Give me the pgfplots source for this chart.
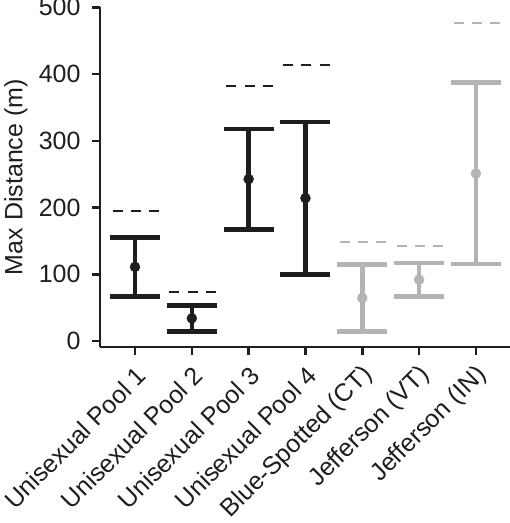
\documentclass[border=0pt]{standalone}
\usepackage{fontspec}
\setmainfont{Liberation Sans}
\usepackage{pgfplots}
\pgfplotsset{compat=1.18}
\definecolor{dk}{RGB}{30,30,30}
\definecolor{lg}{RGB}{180,180,180}
\begin{document}
\begin{tikzpicture}
\begin{axis}[
  at={(100pt,176pt)}, anchor=south west,
  scale only axis, width=410pt, height=339.7pt,
  xmin=-0.616, xmax=6.6, ymin=-9, ymax=500,
  axis lines*=left,
  axis line style={line width=2.5pt, dk},
  every tick/.style={line width=2.5pt, dk},
  major tick length=8pt, tick align=outside,
  xtick={0,1,2,3,4,5,6},
  xticklabels={Unisexual Pool 1,Unisexual Pool 2,Unisexual Pool 3,Unisexual Pool 4,Blue-Spotted (CT),Jefferson (VT),Jefferson (IN)},
  ytick={0,100,200,300,400,500},
  /pgf/number format/assume math mode=true,
  tick label style={font=\fontsize{25}{29}\selectfont, text=dk},
  xticklabel style={xshift=9pt, yshift=-14pt, rotate=45, anchor=east},
  yticklabel style={xshift=-8pt},
  ylabel={Max Distance (m)},
  ylabel style={font=\fontsize{25}{29}\selectfont, text=dk, at={(axis description cs:-0.2049,0.5)}, anchor=center},
  clip=false,
]
% dark series
\addplot[only marks, mark=*, mark size=5pt, mark options={fill=dk, draw=dk},
  error bars/.cd, y dir=both, y explicit,
  error bar style={line width=4.6pt, dk},
  error mark=|, error mark options={line width=4.5pt, mark size=25pt, dk}]
  coordinates {(0,111) +- (0,44) (1,34) +- (0,19.5) (2,242.5) +- (0,75.5) (3,214) +- (0,114)};
% grey series
\addplot[only marks, mark=*, mark size=5pt, mark options={fill=lg, draw=lg},
  error bars/.cd, y dir=both, y explicit,
  error bar style={line width=4.6pt, lg},
  error mark=|, error mark options={line width=4.5pt, mark size=25pt, lg}]
  coordinates {(4,64.5) +- (0,50) (5,92) +- (0,25) (6,251) +- (0,136)};
% dashed maxima
\addplot[only marks, mark=-, mark size=24.2pt,
  mark options={line width=2pt, dash pattern=on 10pt off 8.3pt, draw=dk}]
  coordinates {(0,195) (1,73) (2,382) (3,413)};
\addplot[only marks, mark=-, mark size=24.2pt,
  mark options={line width=2pt, dash pattern=on 10pt off 8.3pt, draw=lg}]
  coordinates {(4,149) (5,142) (6,477)};
\end{axis}
\pgfresetboundingbox
\path[use as bounding box] (0,0) rectangle (510pt,523pt);
\end{tikzpicture}
\end{document}
